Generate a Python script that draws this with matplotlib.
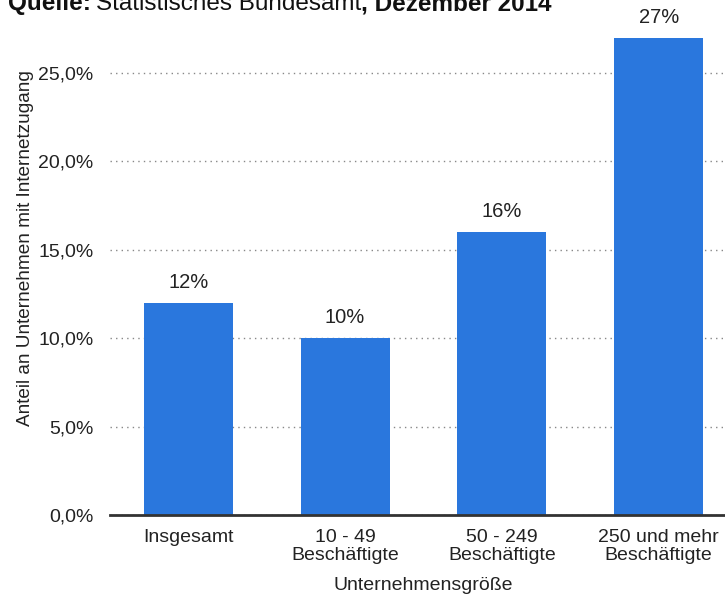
import matplotlib
matplotlib.use("Agg")
import matplotlib.pyplot as plt
from matplotlib.ticker import FuncFormatter

plt.rcParams['font.family'] = ['Liberation Sans', 'DejaVu Sans']

categories = ["Insgesamt", "10 - 49\nBeschäftigte", "50 - 249\nBeschäftigte", "250 und mehr\nBeschäftigte"]
values = [12, 10, 16, 27]
value_labels = ["12%", "10%", "16%", "27%"]
y_ticks = [0, 5, 10, 15, 20, 25]

W, H = 725, 594
fig = plt.figure(figsize=(W / 100, H / 100), dpi=100)

# axes in pixel coordinates: left 110, right 737 (cut off), bottom 515
px_per_unit = 17.68
ymax = 28
top_px = 515 - ymax * px_per_unit
ax_h = 515 - top_px
ax = fig.add_axes([110 / W, (H - 515) / H, (737 - 110) / W, ax_h / H])

x = range(len(categories))
ax.bar(x, values, width=0.567, color="#2a77dd", zorder=3)
for xi, v, lab in zip(x, values, value_labels):
    ax.text(xi, v + 0.62, lab, ha="center", va="bottom", fontsize=14.5, color="#222222")

ax.set_xlim(-0.5, 3.5)
ax.set_ylim(0, ymax)
ax.set_yticks(y_ticks)
ax.yaxis.set_major_formatter(FuncFormatter(lambda v, p: ("%.1f%%" % v).replace(".", ",")))
ax.set_xticks(list(x))
ax.set_xticklabels(categories, fontsize=14, color="#222222", linespacing=1.1)
ax.tick_params(axis="y", length=0, pad=12, labelsize=14, labelcolor="#222222")
ax.tick_params(axis="x", length=0, pad=10)
ax.yaxis.grid(True, linestyle=(0, (1, 3)), color="#888888", linewidth=1, zorder=0)

for s in ["top", "right", "left"]:
    ax.spines[s].set_visible(False)
ax.spines["bottom"].set_color("#333333")
ax.spines["bottom"].set_linewidth(2)
ax.spines["bottom"].set_zorder(4)

ax.set_xlabel("Unternehmensgröße", fontsize=14, color="#222222", va="baseline")
ax.xaxis.set_label_coords(0.5, -(590 - 515) / ax_h)
ax.set_ylabel("Anteil an Unternehmen mit Internetzugang", fontsize=13.7, color="#222222", va="center")
ax.yaxis.set_label_coords(-(110 - 26) / (737 - 110), (515 - 248) / ax_h)

# source line (partly cut at top)
ty = 1 - 10 / H
t1 = fig.text(8 / W, ty, "Quelle:", fontsize=17.5, fontweight="bold", va="baseline", color="#111111")
fig.canvas.draw()
r = fig.canvas.get_renderer()
e1 = t1.get_window_extent(r)
t2 = fig.text(e1.x1 / W + 5 / W, ty, "Statistisches Bundesamt", fontsize=17.5, va="baseline", color="#111111")
e2 = t2.get_window_extent(r)
fig.text(e2.x1 / W, ty, ", Dezember 2014", fontsize=17.5, fontweight="bold", va="baseline", color="#111111")

fig.savefig("out.png", dpi=100)
